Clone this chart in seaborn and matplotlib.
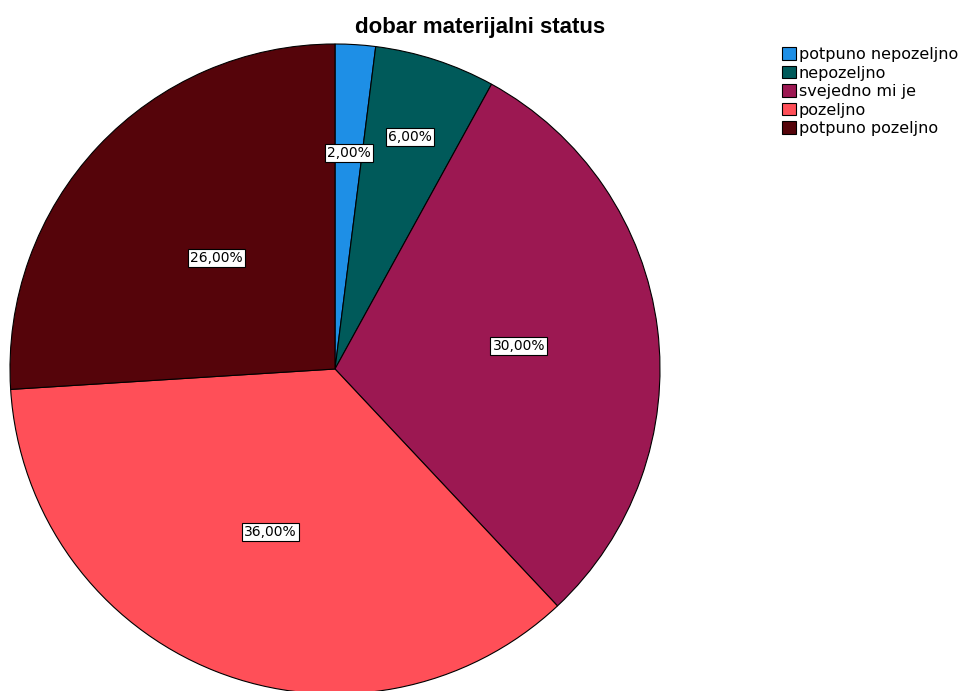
import numpy as np
import matplotlib
matplotlib.use("Agg")
import matplotlib.pyplot as plt
import seaborn as sns

title = "dobar materijalni status"
categories = ["potpuno nepozeljno", "nepozeljno", "svejedno mi je", "pozeljno", "potpuno pozeljno"]
percents = [2.0, 6.0, 30.0, 36.0, 26.0]
colors = ["#1E8FE6", "#005A5A", "#9C1852", "#FF4F58", "#55040A"]
# how far from the centre each percent label sits (fraction of radius)
label_dist = [0.665, 0.75, 0.57, 0.54, 0.5]


def main():
    sns.set_theme(style="white")
    plt.rcParams["font.family"] = ["DejaVu Sans"]
    plt.rcParams["text.color"] = "black"

    fig = plt.figure(figsize=(9.67, 6.91), dpi=100)
    W, H = 967, 691
    cx, cy, r = 335, 369, 325
    ax = fig.add_axes([(cx - r) / W, (H - cy - r) / H, 2 * r / W, 2 * r / H])

    pal = sns.color_palette(colors)
    wedges, _ = ax.pie(percents, colors=pal, startangle=90, counterclock=False,
                       radius=1, frame=False,
                       wedgeprops=dict(edgecolor="black", linewidth=0.8))
    for w in wedges:
        w.set_clip_on(False)

    for w, p, d in zip(wedges, percents, label_dist):
        mid = np.deg2rad((w.theta1 + w.theta2) / 2)
        lbl = f"{p:.2f}%".replace(".", ",")
        ax.text(d * np.cos(mid), d * np.sin(mid), lbl, ha="center", va="center",
                fontsize=10, color="black",
                bbox=dict(boxstyle="square,pad=0.15", facecolor="white",
                          edgecolor="black", linewidth=0.8))

    ax.set_xlim(-1, 1)
    ax.set_ylim(-1, 1)
    ax.set_aspect("equal")
    ax.axis("off")

    fig.text(480 / W, 1 - 27 / H, title, ha="center", va="center", color="black",
             fontsize=16, fontweight="bold", family=["Liberation Sans", "DejaVu Sans"])

    fig.legend(wedges, categories, loc="upper left",
               bbox_to_anchor=(782 / W, 1 - 47 / H), frameon=False,
               fontsize=11.5, handlelength=0.85, handleheight=0.85,
               handletextpad=0.2, labelspacing=0.22, borderaxespad=0,
               borderpad=0, labelcolor="black")

    fig.savefig("out.png", dpi=100)


if __name__ == "__main__":
    main()
